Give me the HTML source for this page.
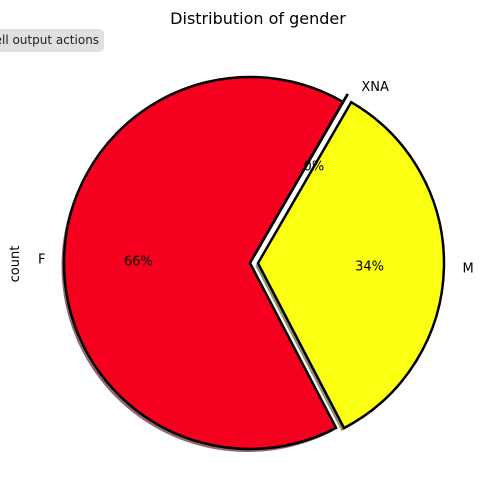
<!DOCTYPE html>
<html><head><meta charset="utf-8"><style>
body{margin:0;background:#fff;width:497px;height:498px;overflow:hidden;font-family:"DejaVu Sans","Liberation Sans",sans-serif}
#btn{position:absolute;left:-12px;top:29px;width:116px;height:23px;background:#e0e0e0;border-radius:5px;font-size:12px;line-height:23px;text-align:right;padding-right:8px;box-sizing:border-box;color:#222;white-space:nowrap;overflow:hidden}
</style></head><body>
<svg id="c" width="497" height="498" style="position:absolute;left:0;top:0">
<text x="258" y="24" font-size="16" text-anchor="middle" fill="#000">Distribution of gender</text>
<text transform="translate(19,264) rotate(-90)" font-size="13" text-anchor="middle">count</text>
<g id="g"></g>
</svg>
<div id="btn">cell output actions</div>
<script>
const categories=["F","M","XNA"];
const values=[66,34,0.02];
const colors=["#f5001e","#fbff12","#ffffff"];
const shadowColors=["#4a0009","#4b4c05","#4c4c4c"];
const explode=[0,8,8];
const cx=250,cy=263,r=186,start=60;
const g=document.getElementById('g');
const ns='http://www.w3.org/2000/svg';
const tot=values.reduce((a,b)=>a+b,0);
function pt(a,rr,ox,oy){const t=a*Math.PI/180;return [cx+ox+rr*Math.cos(t),cy+oy-rr*Math.sin(t)];}
function wedge(a0,a1,ox,oy){const p0=pt(a0,r,ox,oy),p1=pt(a1,r,ox,oy);const large=(a1-a0)>180?1:0;
return `M${cx+ox},${cy+oy} L${p0[0]},${p0[1]} A${r},${r} 0 ${large} 0 ${p1[0]},${p1[1]} Z`;}
let a=start;const sl=[];
values.forEach((v,i)=>{const s=v/tot*360;const mid=(a+s/2)*Math.PI/180;sl.push({a0:a,a1:a+s,ox:explode[i]*Math.cos(mid),oy:-explode[i]*Math.sin(mid),mid,i});a+=s;});
sl.forEach(s=>{const p=document.createElementNS(ns,'path');


p.setAttribute('d',wedge(s.a0,s.a1,s.ox-2.5,s.oy+3));p.setAttribute('fill',shadowColors[s.i]);p.setAttribute('fill-opacity','0.6');g.appendChild(p);});
sl.forEach(s=>{const p=document.createElementNS(ns,'path');


p.setAttribute('d',wedge(s.a0,s.a1,s.ox,s.oy));p.setAttribute('fill',colors[s.i]);p.setAttribute('stroke','#000');p.setAttribute('stroke-width','2.5');g.appendChild(p);});
sl.forEach(s=>{const deg=s.mid*180/Math.PI;const lp=pt(deg,r*1.1,s.ox,s.oy),pp=pt(deg,r*0.6,s.ox,s.oy);
const t=document.createElementNS(ns,'text');


const c=Math.cos(s.mid);const small=values[s.i]/tot<0.01;
t.setAttribute('x',lp[0]+(small?5:0));t.setAttribute('y',lp[1]+5+(small?7:0));t.setAttribute('font-size','13');
t.setAttribute('text-anchor',c>0.01?'start':(c<-0.01?'end':'middle'));t.textContent=categories[s.i];g.appendChild(t);
const q=document.createElementNS(ns,'text');


q.setAttribute('x',pp[0]+(small?4:0));q.setAttribute('y',pp[1]+5+(small?6:0));q.setAttribute('font-size','13');q.setAttribute('text-anchor','middle');
q.textContent=Math.round(values[s.i]/tot*100)+'%';g.appendChild(q);});
</script>
</body></html>
